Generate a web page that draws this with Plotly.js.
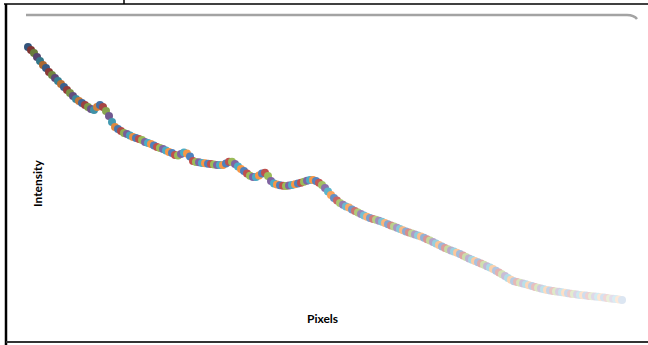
<!DOCTYPE html>
<html>
<head>
<meta charset="utf-8">
<script src="https://cdn.plot.ly/plotly-3.0.1.min.js"></script>
<style>html,body{margin:0;padding:0;background:#fff;}#chart{width:648px;height:345px;}</style>
</head>
<body>
<div id="chart"></div>
<script>
// Intensity profile (one value every few pixels along the profile)
const intensity = [
283,280,277,273,269,265,262,258,255,252,249,246,243,240,237,234,231,229,227,225,
223,221,220,223,225,223,219,214,208,203,201,199,197,196,194.5,193,192,191,190,188,
187,186,184.6,183,182,181,179.5,178,177,175,174.5,176,177.5,176.5,173.5,169,168,167.7,167,166.7,
166.3,166,165.4,165,165,165,166.5,168.3,168.3,166,163.5,161,159,156.5,154.3,153,153,154.5,156.5,157.3,
154,149,146.6,145.4,144.7,144.3,144,144.6,145,145.7,146.5,147.3,148.3,149.2,150,150,149,147.2,145,142,
138.5,135,132,129.4,127,125.3,123.6,122.5,120.5,119,117.5,116,114.6,113.3,112,111.1,110.2,109.3,108.2,107,
105.8,104.6,103.4,102.2,101,99.8,98.6,97.4,96.4,95.5,94.6,93.5,92.2,90.8,89.4,88,86.5,85,83.5,82,
80.8,79.6,78.4,77.2,76,74.5,73,71.5,70.2,69,67.8,66.5,65.2,63.8,62.4,61,59.3,57.6,55.8,54,
52.1,50.2,48.8,48,47.2,46.5,45.7,44.8,43.9,43,42.2,41.5,40.7,40,39.5,39.1,38.6,38.2,37.7,37.2,
36.8,36.3,35.9,35.4,35,34.7,34.4,34.1,33.8,33.5,33.2,32.8,32.4,32.1,31.6,31.3,30.9,30.4,30
];
const pixels = intensity.map((_, i) => i);
const xTitle = "Pixels";
const yTitle = "Intensity";

// marker styling: cycling palette, darker at start, paling toward the end
const palette = [[79,129,189],[192,80,77],[155,187,89],[128,100,162],[75,172,198],[247,150,70]];
const n = intensity.length;
const colors = pixels.map(i => {
  const c = palette[i % palette.length];
  const dark = Math.max(0, 0.35 * (1 - i / 40));
  let w = 0;
  if (i > 95) w = 0.8 * Math.pow((i - 95) / (n - 1 - 95), 0.7);
  const ch = v => Math.round(v * (1 - dark) * (1 - w) + 255 * w);
  return `rgb(${ch(c[0])},${ch(c[1])},${ch(c[2])})`;
});

const W = 648, H = 345, ML = 20, MR = 20, MT = 30, MB = 30;
const PW = W - ML - MR, PH = H - MT - MB;
const px = p => (p - ML) / PW;
const py = p => (H - MB - p) / PH;

const trace = {
  x: pixels, y: intensity, type: 'scatter', mode: 'markers',
  marker: {size: 8, color: colors, line: {width: 0}},
  cliponaxis: false, hoverinfo: 'skip', showlegend: false
};

const layout = {
  width: W, height: H,
  margin: {l: ML, r: MR, t: MT, b: MB, pad: 0},
  paper_bgcolor: '#ffffff', plot_bgcolor: '#ffffff',
  xaxis: {range: [-8/3, 200], showgrid: false, zeroline: false, showline: false, showticklabels: false, ticks: ''},
  yaxis: {range: [15, 300], showgrid: false, zeroline: false, showline: false, showticklabels: false, ticks: ''},
  shapes: [
    {type: 'line', xref: 'paper', yref: 'paper', x0: px(4), x1: px(648), y0: py(4), y1: py(4), line: {color: '#000', width: 1.5}},
    {type: 'line', xref: 'paper', yref: 'paper', x0: px(124), x1: px(124), y0: py(0), y1: py(4), line: {color: '#000', width: 1.5}},
    {type: 'line', xref: 'paper', yref: 'paper', x0: px(6), x1: px(6), y0: py(4), y1: py(345), line: {color: '#000', width: 2.5}},
    {type: 'line', xref: 'paper', yref: 'paper', x0: px(6), x1: px(648), y0: py(342), y1: py(342), line: {color: '#333', width: 2}},
    {type: 'path', xref: 'paper', yref: 'paper',
     path: `M ${px(26)},${py(15)} L ${px(627)},${py(15)} Q ${px(634)},${py(15)} ${px(637)},${py(19)}`,
     line: {color: '#a3a3a3', width: 2.5}}
  ],
  annotations: [
    {text: '<b>' + yTitle + '</b>', xref: 'paper', yref: 'paper', x: px(37), y: py(183), textangle: -90,
     showarrow: false, xanchor: 'center', yanchor: 'middle', font: {family: 'Lato, "Open Sans", sans-serif', size: 12, color: '#000'}},
    {text: '<b>' + xTitle + '</b>', xref: 'paper', yref: 'paper', x: px(322), y: py(318),
     showarrow: false, xanchor: 'center', yanchor: 'middle', font: {family: 'Lato, "Open Sans", sans-serif', size: 12, color: '#000'}}
  ]
};

Plotly.newPlot('chart', [trace], layout, {displayModeBar: false, staticPlot: true});
</script>
</body>
</html>
